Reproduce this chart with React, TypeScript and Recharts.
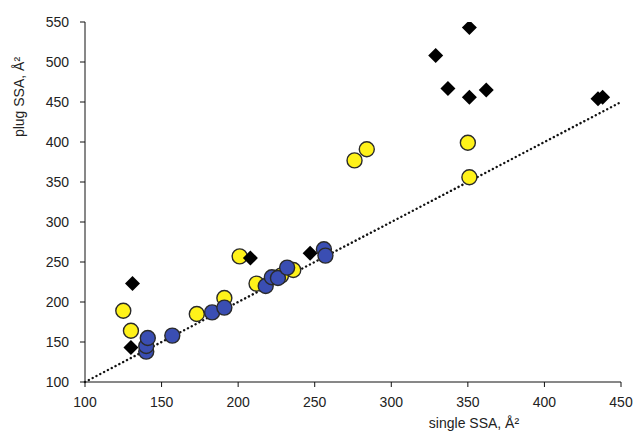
import { ReferenceLine, Scatter, ScatterChart, XAxis, YAxis } from 'recharts';

// single SSA (x) vs plug SSA (y), Å²
const DIAMOND_X = [131, 130, 208, 247, 329, 337, 351, 351, 362, 435, 438];
const DIAMOND_Y = [223, 143, 255, 261, 508, 467, 543, 456, 465, 454, 456];

const YELLOW_X = [125, 130, 173, 191, 201, 212, 228, 236, 276, 284, 350, 351];
const YELLOW_Y = [189, 164, 185, 205, 257, 223, 233, 240, 377, 391, 399, 356];

const BLUE_X = [140, 140, 141, 157, 183, 191, 218, 222, 226, 232, 256, 257];
const BLUE_Y = [138, 145, 155, 158, 187, 193, 220, 231, 230, 243, 266, 258];

const X_TICKS = [100, 150, 200, 250, 300, 350, 400, 450];
const Y_TICKS = [100, 150, 200, 250, 300, 350, 400, 450, 500, 550];

const toPoints = (xs: number[], ys: number[]) => xs.map((x, i) => ({ x, y: ys[i] }));

const diamonds = toPoints(DIAMOND_X, DIAMOND_Y);
const yellows = toPoints(YELLOW_X, YELLOW_Y);
const blues = toPoints(BLUE_X, BLUE_Y);

const FONT = 'Arial, "Liberation Sans", sans-serif';
const TICK = { fontSize: 14, fill: '#222', fontFamily: FONT };

const Diamond = (p: any) => {
  const { cx, cy } = p;
  const r = 7.5;
  return <polygon points={`${cx},${cy - r} ${cx + r},${cy} ${cx},${cy + r} ${cx - r},${cy}`} fill="#000" />;
};

const circle = (fill: string) => (p: any) => (
  <circle cx={p.cx} cy={p.cy} r={7.5} fill={fill} stroke="#2a2a2a" strokeWidth={1.4} />
);

export default function App() {
  return (
    <div style={{ position: 'absolute', left: 0, top: 0, width: 636, height: 440, background: '#fff' }}>
      <ScatterChart width={636} height={440} margin={{ top: 22, right: 15, bottom: 28, left: 25 }}>
        <XAxis
          type="number"
          dataKey="x"
          domain={[100, 450]}
          ticks={X_TICKS}
          tick={TICK}
          tickSize={5}
          tickMargin={10}
          height={30}
          stroke="#111"
          allowDataOverflow
          label={{
            content: () => (
              <text x={474} y={428} textAnchor="middle" fontSize={14} fill="#222" fontFamily={FONT}>
                single SSA, Å²
              </text>
            ),
          }}
        />
        <YAxis
          type="number"
          dataKey="y"
          domain={[100, 550]}
          ticks={Y_TICKS}
          tick={TICK}
          tickSize={5}
          tickMargin={11}
          width={60}
          stroke="#111"
          allowDataOverflow
          label={{
            content: () => (
              <text
                x={0}
                y={0}
                transform="translate(24,97) rotate(-90)"
                textAnchor="middle"
                fontSize={14}
                fill="#222"
                fontFamily={FONT}
              >
                plug SSA, Å²
              </text>
            ),
          }}
        />
        <Scatter data={yellows} shape={circle('#fff21a')} isAnimationActive={false} />
        <Scatter data={diamonds} shape={Diamond} isAnimationActive={false} />
        <Scatter data={blues} shape={circle('#3a4eb3')} isAnimationActive={false} />
        <ReferenceLine
          segment={[
            { x: 100, y: 100 },
            { x: 450, y: 450 },
          ]}
          stroke="#111"
          strokeWidth={2.4}
          strokeDasharray="0.1 4.2"
          strokeLinecap="round"
        />
      </ScatterChart>
    </div>
  );
}
